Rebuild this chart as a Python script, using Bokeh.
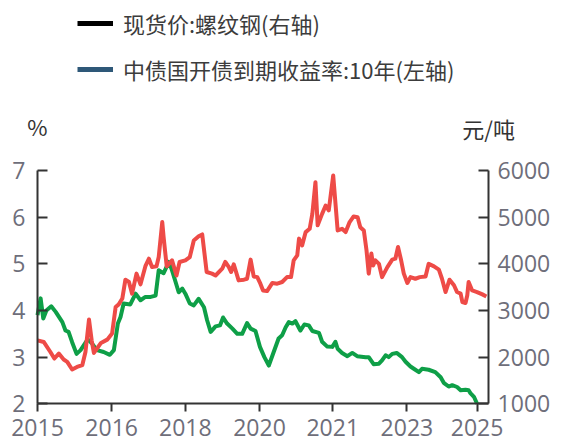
from bokeh.plotting import figure
from bokeh.models import Range1d, LinearAxis, FixedTicker, Legend, LegendItem, Label
from bokeh.embed import file_html
from bokeh.resources import INLINE

# ---- data ----
yield_t = [2015.00, 2015.07, 2015.13, 2015.20, 2015.31, 2015.41, 2015.56, 2015.63, 2015.70, 2015.78,
           2015.88, 2015.97, 2016.13, 2016.23, 2016.34, 2016.49, 2016.63, 2016.72, 2016.81, 2016.87,
           2016.94, 2017.09, 2017.21, 2017.32, 2017.43, 2017.55, 2017.66, 2017.73, 2017.84, 2017.96,
           2018.03, 2018.11, 2018.18, 2018.26, 2018.33, 2018.43, 2018.52, 2018.63, 2018.75, 2018.82,
           2018.90, 2019.01, 2019.11, 2019.18, 2019.27, 2019.39, 2019.50, 2019.61, 2019.72, 2019.80,
           2019.91, 2020.01, 2020.11, 2020.21, 2020.32, 2020.43, 2020.51, 2020.59, 2020.66, 2020.74,
           2020.81, 2020.92, 2021.01, 2021.11, 2021.19, 2021.34, 2021.41, 2021.52, 2021.64, 2021.71,
           2021.76, 2021.86, 2021.98, 2022.09, 2022.20, 2022.39, 2022.46, 2022.57, 2022.69, 2022.76,
           2022.84, 2022.91, 2022.99, 2023.09, 2023.21, 2023.29, 2023.40, 2023.51, 2023.59, 2023.66,
           2023.81, 2023.96, 2024.08, 2024.15, 2024.26, 2024.34, 2024.45, 2024.53, 2024.64, 2024.71,
           2024.75, 2024.83, 2024.90]
yield_v = [3.90, 4.26, 3.83, 4.00, 4.09, 3.97, 3.75, 3.57, 3.54, 3.32,
           3.07, 3.15, 3.38, 3.29, 3.15, 3.11, 3.05, 3.15, 3.72, 3.86,
           4.15, 4.13, 4.36, 4.22, 4.29, 4.29, 4.32, 4.86, 4.80, 5.04,
           4.86, 4.61, 4.39, 4.47, 4.36, 4.15, 4.11, 4.25, 4.07, 3.79,
           3.54, 3.66, 3.68, 3.85, 3.72, 3.61, 3.50, 3.50, 3.73, 3.61,
           3.56, 3.22, 3.00, 2.82, 3.11, 3.40, 3.47, 3.64, 3.75, 3.72,
           3.77, 3.57, 3.70, 3.68, 3.56, 3.52, 3.33, 3.23, 3.22, 3.33,
           3.18, 3.09, 3.02, 3.09, 3.02, 3.00, 3.00, 2.85, 2.86, 2.93,
           3.04, 3.00, 3.07, 3.09, 3.00, 2.90, 2.80, 2.73, 2.68, 2.75,
           2.73, 2.68, 2.57, 2.45, 2.37, 2.40, 2.36, 2.29, 2.30, 2.29,
           2.23, 2.15, 2.00]

steel_t = [2015.00, 2015.14, 2015.29, 2015.38, 2015.48, 2015.59, 2015.67, 2015.78, 2015.89, 2016.01,
           2016.08, 2016.16, 2016.22, 2016.27, 2016.34, 2016.43, 2016.57, 2016.68, 2016.76, 2016.83,
           2016.91, 2016.98, 2017.06, 2017.13, 2017.23, 2017.32, 2017.43, 2017.51, 2017.58, 2017.68,
           2017.73, 2017.81, 2017.84, 2017.91, 2018.03, 2018.13, 2018.20, 2018.33, 2018.43, 2018.52,
           2018.63, 2018.71, 2018.81, 2018.93, 2019.01, 2019.16, 2019.23, 2019.31, 2019.36, 2019.42,
           2019.53, 2019.65, 2019.72, 2019.80, 2019.87, 2019.95, 2020.02, 2020.08, 2020.17, 2020.29,
           2020.40, 2020.51, 2020.62, 2020.71, 2020.77, 2020.85, 2020.89, 2020.96, 2021.04, 2021.13,
           2021.19, 2021.26, 2021.31, 2021.41, 2021.49, 2021.56, 2021.66, 2021.76, 2021.86, 2021.94,
           2022.03, 2022.12, 2022.21, 2022.27, 2022.35, 2022.41, 2022.46, 2022.52, 2022.56, 2022.61,
           2022.69, 2022.76, 2022.88, 2022.99, 2023.06, 2023.12, 2023.19, 2023.25, 2023.33, 2023.40,
           2023.51, 2023.61, 2023.74, 2023.81, 2023.93, 2024.04, 2024.11, 2024.19, 2024.28, 2024.38,
           2024.45, 2024.53, 2024.57, 2024.64, 2024.68, 2024.71, 2024.79, 2024.90, 2025.02, 2025.11]
steel_v = [2360, 2325, 2110, 1970, 2077, 1950, 1900, 1735, 1790, 1830,
           2110, 2805, 2360, 2090, 2185, 2305, 2375, 2505, 3075, 3130,
           3255, 3660, 3610, 3360, 3790, 3560, 3950, 4110, 3930, 3945,
           4145, 4895, 4575, 3945, 4075, 3750, 4040, 4075, 4145, 4500,
           4590, 4630, 3825, 3790, 3750, 3895, 4040, 3930, 3825, 3990,
           3645, 3660, 3680, 4090, 3730, 3715, 3575, 3430, 3415, 3590,
           3575, 3610, 3715, 3715, 4075, 4180, 4540, 4395, 4680, 4750,
           5070, 5750, 4825, 5070, 5250, 5145, 5895, 4715, 4750, 4680,
           4895, 5015, 5000, 4785, 4715, 4290, 3790, 4220, 3965, 4075,
           4000, 3715, 3930, 4090, 4110, 4360, 4075, 3790, 3590, 3715,
           3680, 3715, 3730, 4000, 3945, 3875, 3680, 3395, 3660, 3540,
           3395, 3360, 3180, 3160, 3325, 3610, 3430, 3395, 3345, 3300]

x_tick_pos = [2015.0, 2016.67, 2018.33, 2020.0, 2021.65, 2023.32, 2024.9]
x_tick_labels = ["2015", "2016", "2018", "2020", "2021", "2023", "2025"]
left_ticks = [2, 3, 4, 5, 6, 7]
right_ticks = [1000, 2000, 3000, 4000, 5000, 6000]
legend_labels = ["现货价:螺纹钢(右轴)", "中债国开债到期收益率:10年(左轴)"]
left_unit = "%"
right_unit = "元/吨"

X_START, X_END = 2015.0, 2025.16   # extent of the drawn x axis
L_MIN, L_MAX = 2, 7                 # left axis extent
R_MIN, R_MAX = 1000, 6000           # right axis extent

RED = "#EE4B47"
GREEN = "#0E9F47"
AXIS = "#333333"
TICKLBL = "#6E6E7A"
NUMFONT = "Open Sans"
CJK = "Noto Sans CJK SC"

W, H = 565, 442
# The frame fills the whole canvas; axes are pinned (fixed_location) and bounded
# so they sit where the reference draws them.
AX_LEFT_PX, AX_TOP_PX, AX_BOTTOM_PX = 37.0, 170.0, 403.3
px_per_year = 44.4
px_per_unit = (AX_BOTTOM_PX - AX_TOP_PX) / (L_MAX - L_MIN)
x_lo = X_START - AX_LEFT_PX / px_per_year
x_hi = X_START + (W - AX_LEFT_PX) / px_per_year
y_lo = L_MIN - (H - AX_BOTTOM_PX) / px_per_unit
y_hi = L_MIN + AX_BOTTOM_PX / px_per_unit
k = (R_MAX - R_MIN) / (L_MAX - L_MIN)
r_lo = R_MIN + (y_lo - L_MIN) * k
r_hi = R_MIN + (y_hi - L_MIN) * k

p = figure(width=W, height=H, x_range=Range1d(x_lo, x_hi), y_range=Range1d(y_lo, y_hi),
           output_backend="svg", toolbar_location=None,
           min_border_left=0, min_border_right=0, min_border_top=0, min_border_bottom=0)
p.outline_line_color = None
p.grid.visible = False
p.background_fill_color = "white"
p.border_fill_color = "white"
p.extra_y_ranges = {"r": Range1d(r_lo, r_hi)}

right_axis = LinearAxis(y_range_name="r")
p.add_layout(right_axis, "right")

def style(ax):
    ax.axis_line_color = AXIS
    ax.axis_line_width = 2
    ax.major_tick_line_color = AXIS
    ax.major_tick_line_width = 2
    ax.minor_tick_line_color = None
    ax.major_label_text_font = NUMFONT
    ax.major_label_text_font_size = "23px"
    ax.major_label_text_color = TICKLBL

xa = p.xaxis[0]
style(xa)
xa.ticker = FixedTicker(ticks=x_tick_pos)
xa.major_label_overrides = {t: l for t, l in zip(x_tick_pos, x_tick_labels)}
xa.bounds = (X_START, X_END)
xa.fixed_location = L_MIN
xa.major_tick_in = 0
xa.major_tick_out = 8
xa.major_label_standoff = 7

ya = p.yaxis[0]
style(ya)
ya.ticker = FixedTicker(ticks=left_ticks)
ya.bounds = (L_MIN, L_MAX)
ya.fixed_location = X_START
ya.major_tick_in = 10
ya.major_tick_out = 0
ya.major_label_standoff = 12

style(right_axis)
right_axis.ticker = FixedTicker(ticks=right_ticks)
right_axis.bounds = (R_MIN, R_MAX)
right_axis.fixed_location = X_END
right_axis.major_tick_in = 10
right_axis.major_tick_out = 0
right_axis.major_label_standoff = 9

p.line(yield_t, yield_v, line_color=GREEN, line_width=4, line_join="round")
p.line(steel_t, steel_v, line_color=RED, line_width=4, line_join="round", y_range_name="r")

nan = float("nan")
d1 = p.line([nan], [nan], line_color="#000000", line_width=5)
d2 = p.line([nan], [nan], line_color="#2E5878", line_width=5)
legend = Legend(items=[LegendItem(label=legend_labels[0], renderers=[d1]),
                       LegendItem(label=legend_labels[1], renderers=[d2])],
                location=(77, H - 85), orientation="vertical",
                label_text_font=CJK, label_text_font_size="22px", label_text_color="#3C3C3C",
                glyph_width=36, glyph_height=30, label_height=30, label_standoff=10,
                spacing=14, padding=0, margin=0,
                border_line_color=None, background_fill_alpha=0)
p.add_layout(legend)

p.add_layout(Label(x=X_START, y=7.96, text=left_unit, text_align="center", text_baseline="middle",
                   text_font=CJK, text_font_size="22px", text_color="#333333"))
p.add_layout(Label(x=X_END, y=7.92, text=right_unit, text_align="center", text_baseline="middle",
                   text_font=CJK, text_font_size="22px", text_color="#333333"))

open("out.html", "w").write(file_html(p, INLINE))
